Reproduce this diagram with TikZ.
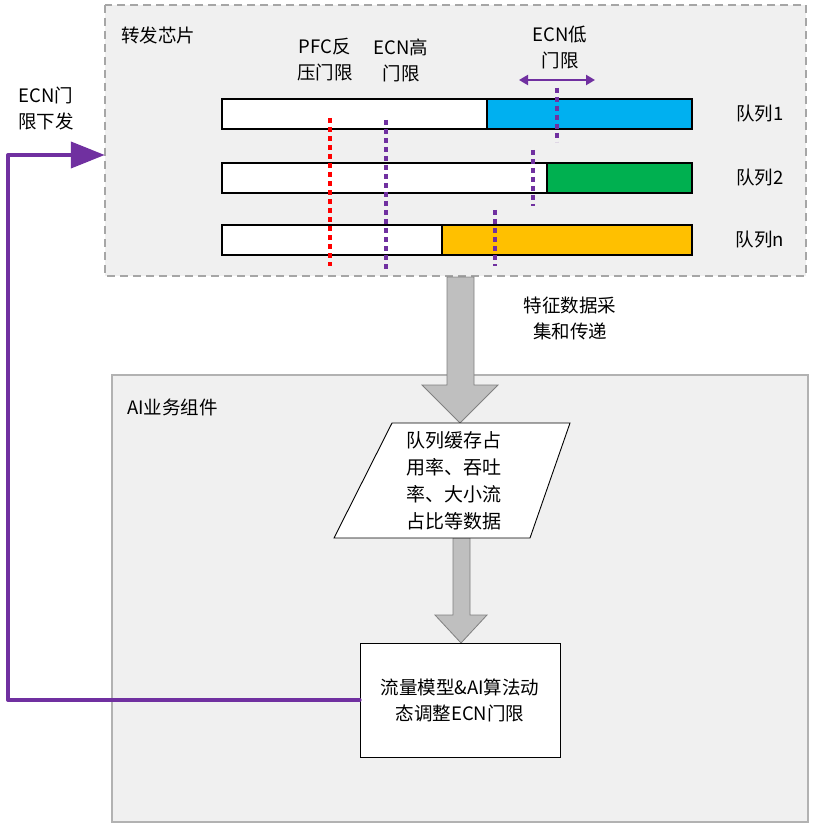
\documentclass[tikz,border=0pt]{standalone}
\usepackage{fontspec}
\setmainfont{Liberation Sans}
\newfontfamily\cjk{Noto Sans CJK SC}
\usetikzlibrary{arrows.meta}
\definecolor{bggray}{HTML}{F0F0F0}
\definecolor{qblue}{HTML}{00B0F0}
\definecolor{qgreen}{HTML}{00B050}
\definecolor{qyellow}{HTML}{FFC000}
\definecolor{ppl}{HTML}{7030A0}
\definecolor{arrgray}{HTML}{BFBFBF}
\definecolor{edgegray}{HTML}{808080}
\tikzset{
  lbl/.style={font=\fontsize{18.5}{26}\selectfont\cjk, align=center, inner sep=0pt},
  bar/.style={draw=black, line width=2pt},
  thr/.style={line width=3.2pt, dash pattern=on 5pt off 4pt},
  bigarrow/.style={draw=edgegray, fill=arrgray, line width=0.8pt},
  procbox/.style={draw=black, fill=white, line width=0.8pt, font=\fontsize{18.5}{26}\selectfont\cjk, align=center},
}
\begin{document}
\begin{tikzpicture}[x=1pt,y=-1pt]
\useasboundingbox (0,0) rectangle (814,826);
% containers
\draw[draw=gray!70, fill=bggray, dash pattern=on 8pt off 5pt, line width=1.2pt] (105,5) rectangle (806,276);
\node[minimum width=701pt, minimum height=271pt, inner sep=0pt] (chip) at (455.5,140.5) {};
\draw[draw=gray!60, fill=bggray, line width=1.2pt] (112,375) rectangle (808,822);
\node[lbl, anchor=west] (chiplbl) at (121,35) {转发芯片};
\node[lbl, anchor=west] (ailbl) at (127,407) {AI业务组件};
% queues
\draw[bar, fill=white] (222,99) rectangle (487,129);
\draw[bar, fill=qblue] (487,99) rectangle (692,129);
\draw[bar, fill=white] (222,163) rectangle (547,193);
\draw[bar, fill=qgreen] (547,163) rectangle (692,193);
\draw[bar, fill=white] (222,225) rectangle (442,255);
\draw[bar, fill=qyellow] (442,225) rectangle (692,255);
\node[lbl] (q1) at (760,114) {队列1};
\node[lbl] (q2) at (760,178) {队列2};
\node[lbl] (qn) at (760,240) {队列n};
% thresholds
\draw[thr, red] (330,118) -- (330,266);
\draw[thr, ppl] (386,120) -- (386,270);
\draw[thr, ppl] (557,88) -- (557,142);
\draw[thr, ppl] (533,150) -- (533,206);
\draw[thr, ppl] (495,210) -- (495,266);
\node[lbl] (pfc) at (325,60) {PFC反\\压门限};
\node[lbl] (ecnh) at (401,60) {ECN高\\门限};
\node[lbl] (ecnl) at (560,47) {ECN低\\门限};
\draw[ppl, line width=2pt, {Triangle[length=9pt,width=10pt]}-{Triangle[length=9pt,width=10pt]}] (519,80) -- (595,80);
% gray arrows
\draw[bigarrow] (447,277) -- (474,277) -- (474,385) -- (498,385) -- (460,423) -- (422,385) -- (447,385) -- cycle;
\node[lbl] (feat) at (570,318) {特征数据采\\集和传递};
\draw[bigarrow] (453,538) -- (470,538) -- (470,615) -- (487,615) -- (461,643) -- (435,615) -- (453,615) -- cycle;
% data parallelogram
\draw[draw=black, fill=white, line width=0.9pt] (392,423) -- (570,423) -- (530,538) -- (334,538) -- cycle;
\node[lbl, font=\fontsize{19}{27}\selectfont\cjk] (data) at (454,481) {队列缓存占\\用率、吞吐\\率、大小流\\占比等数据};
% process box
\node[procbox, minimum width=200pt, minimum height=114pt, inner sep=0pt] (model) at (460,700) {流量模型\&AI算法动\\态调整ECN门限};
% feedback
\node[lbl] (send) at (46,108) {ECN门\\限下发};
\coordinate (fb1) at (8,700);
\coordinate (fb2) at (8,155);
\draw[ppl, line width=4pt, line join=round, line cap=round, -{Triangle[length=34pt,width=26pt]}] (model.west) -- (fb1) -- (fb2) -- (chip.west |- fb2);
\end{tikzpicture}
\end{document}
